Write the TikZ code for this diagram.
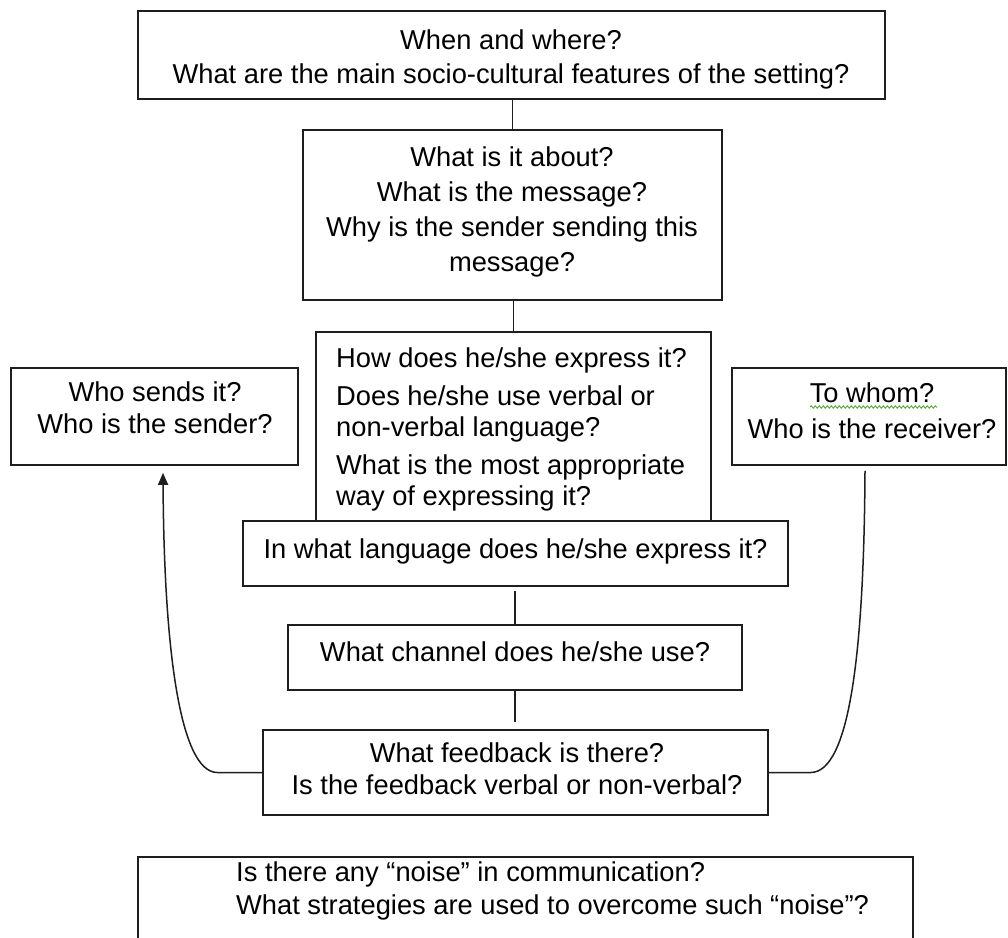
\documentclass[tikz,border=0pt]{standalone}
\usepackage{fontspec}
\setmainfont{Liberation Sans}
\usetikzlibrary{arrows.meta,decorations.pathmorphing,calc}
\definecolor{linecol}{RGB}{30,30,30}
\definecolor{spellgreen}{RGB}{90,170,60}
\begin{document}
\begin{tikzpicture}[x=1pt,y=-1pt,
  box/.style={rectangle,draw=linecol,line width=1.6pt,fill=white,inner sep=0pt},
  txt/.style={inner sep=0pt,text=black,font=\fontsize{27.3}{32}\selectfont},
  link/.style={draw=linecol,line width=1.5pt},
  tip/.style={-{Triangle[width=10pt,length=12pt]}}]
\useasboundingbox (0,0) rectangle (1008,937);
\clip (0,0) rectangle (1008,937);

% frames
\node[box,minimum width=747pt,minimum height=88pt]  (setting) at (511.5,55) {};
\node[box,minimum width=419pt,minimum height=170pt] (message) at (512.5,215) {};
\node[box,minimum width=395pt,minimum height=189pt] (express) at (513.5,426.5) {};
\node[box,minimum width=545pt,minimum height=65pt]  (language) at (515.5,553.5) {};
\node[box,minimum width=454pt,minimum height=65pt]  (channel) at (515,657.5) {};
\node[box,minimum width=505pt,minimum height=85pt]  (feedback) at (515.5,772.5) {};
\node[box,minimum width=287pt,minimum height=97pt]  (sender) at (154.5,416.5) {};
\node[box,minimum width=274pt,minimum height=97pt]  (receiver) at (869,416.5) {};
\node[box,minimum width=775pt,minimum height=103pt] (noise) at (525.5,908.5) {};

% texts
\node[txt,align=center,anchor=north,font=\fontsize{27.3}{34}\selectfont] (setting-t) at (511,30)
  {When and where?\\What are the main socio-cultural features of the setting?};
\node[txt,align=center,anchor=north,font=\fontsize{27.3}{35}\selectfont] (message-t) at (512,147)
  {What is it about?\\What is the message?\\Why is the sender sending this\\message?};
\node[txt,align=left,anchor=north west,font=\fontsize{27.3}{31}\selectfont] (express-t) at (336,348)
  {How does he/she express it?\\[7pt]Does he/she use verbal or\\non-verbal language?\\[7pt]What is the most appropriate\\way of expressing it?};
\node[txt,anchor=north] (language-t) at (515.5,539) {In what language does he/she express it?};
\node[txt,anchor=north] (channel-t) at (515,642) {What channel does he/she use?};
\node[txt,align=center,anchor=north] (feedback-t) at (517,743)
  {What feedback is there?\\Is the feedback verbal or non-verbal?};
\node[txt,align=center,anchor=north] (sender-t) at (155,382)
  {Who sends it?\\Who is the sender?};
\node[txt,align=center,anchor=north,font=\fontsize{27.3}{36}\selectfont] (receiver-t) at (872,383)
  {To whom?\\Who is the receiver?};
\node[txt,align=left,anchor=north west,font=\fontsize{27.3}{33}\selectfont] (noise-t) at (236,862)
  {Is there any “noise” in communication?\\What strategies are used to overcome such “noise”?};

% spell-check squiggle under the first line of the receiver box
\draw[spellgreen,line width=1pt,decorate,decoration={snake,amplitude=1.1pt,segment length=4pt}]
  (810,407) -- (937,407);

% vertical connectors
\draw[link] (message.north) -- (message.north |- setting.south);
\draw[link] (express.north) -- (express.north |- message.south);
\draw[link,shorten >=4pt] (channel.north) -- (channel.north |- language.south);
\draw[link,shorten >=7pt] (channel.south) -- (channel.south |- feedback.north);

% feedback loops
\coordinate (sendertip) at ([xshift=8.5pt,yshift=-7pt]sender.south);
\coordinate (receiverend) at ([xshift=-4pt,yshift=-5pt]receiver.south);
\draw[link,tip] (feedback.west) -- ++(-45,0)
  .. controls (180,772) and (164,650) .. (sendertip);
\draw[link] (feedback.east) -- ++(42,0)
  .. controls (850,772) and (864,650) .. (receiverend);
\end{tikzpicture}
\end{document}
